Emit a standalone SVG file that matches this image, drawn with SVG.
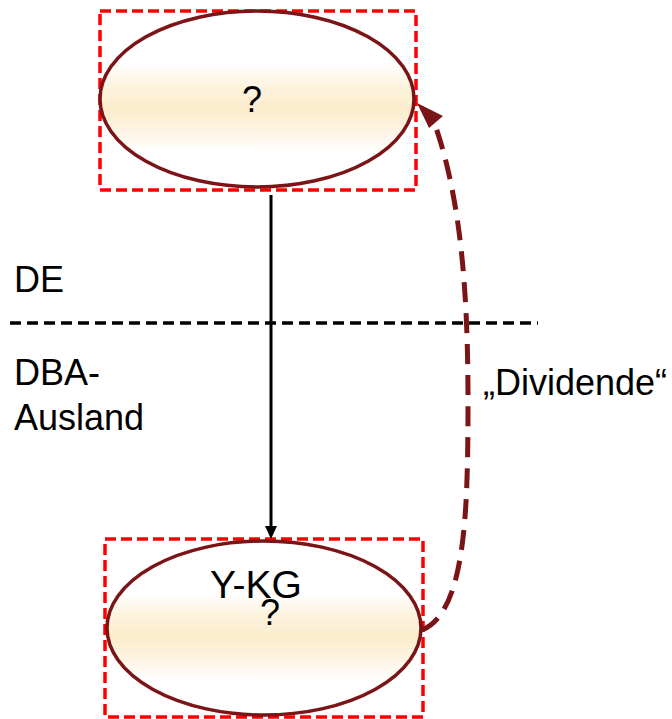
<svg xmlns="http://www.w3.org/2000/svg" width="672" height="719" viewBox="0 0 672 719">
  <style>
    .lbl { font-family: "Liberation Sans", Arial, sans-serif; font-size: 36px; fill: #000; }
    .box { fill: none; stroke: #ff0000; stroke-width: 3.5; stroke-dasharray: 11 5; }
    .ent { fill: url(#band); stroke: #7b1416; stroke-width: 3.5; }
  </style>
  <defs>
    <linearGradient id="band" x1="0" y1="0" x2="0" y2="1">
      <stop offset="0" stop-color="#ffffff"/>
      <stop offset="0.3" stop-color="#ffffff"/>
      <stop offset="0.42" stop-color="#fdf4e0"/>
      <stop offset="0.56" stop-color="#fbeccb"/>
      <stop offset="0.7" stop-color="#fdf6e8"/>
      <stop offset="0.8" stop-color="#ffffff"/>
      <stop offset="1" stop-color="#ffffff"/>
    </linearGradient>
    <marker id="blackArrow" viewBox="0 0 10 10" refX="9" refY="5" markerWidth="4" markerHeight="4" orient="auto" markerUnits="strokeWidth">
      <path d="M0,0 L10,5 L0,10 Z" fill="#000"/>
    </marker>
  </defs>

  <!-- border line between the two countries -->
  <line x1="10" y1="323" x2="538" y2="323" stroke="#000" stroke-width="3.5" stroke-dasharray="11 6"/>
  <text class="lbl" x="14" y="292">DE</text>
  <text class="lbl" x="14" y="385">DBA-</text>
  <text class="lbl" x="14" y="430">Ausland</text>

  <g id="top-entity">
    <rect class="box" x="100" y="11" width="316" height="179"/>
    <ellipse class="ent" cx="257" cy="99" rx="157" ry="88"/>
    <text class="lbl" x="252" y="112" text-anchor="middle">?</text>
  </g>

  <g id="y-kg">
    <rect class="box" x="105" y="539" width="318" height="178"/>
    <ellipse class="ent" cx="264" cy="628" rx="157" ry="87"/>
    <text class="lbl" x="256" y="598" text-anchor="middle" style="font-size:39px">Y-KG</text>
    <text class="lbl" x="270" y="625" text-anchor="middle">?</text>
  </g>

  <g id="connectors">
    <line x1="271" y1="195" x2="271" y2="528" stroke="#000" stroke-width="3"/>
    <path d="M265,526 L277,526 L271,539 Z" fill="#000"/>
    <path d="M422,630 C466,612 468,510 468,400 C468,300 462,200 434,122" fill="none" stroke="#7b1416" stroke-width="5" stroke-dasharray="20 11"/>
    <path d="M417,103 L443,116 L429,128 Z" fill="#7b1416"/>
  </g>
  <text class="lbl" x="483" y="395">„Dividende“</text>
</svg>
